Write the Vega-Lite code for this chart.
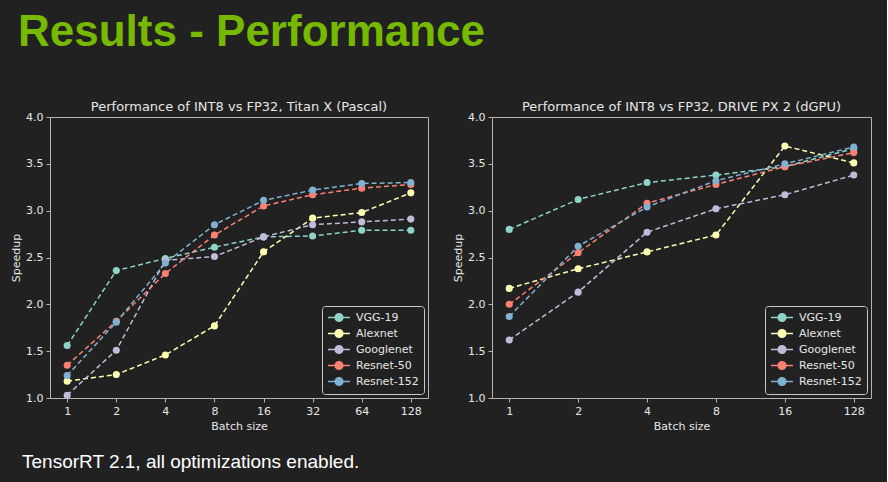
{
  "$schema": "https://vega.github.io/schema/vega-lite/v6.json",
  "background": "#212121",
  "padding": {"left": 10, "top": 10, "right": 15, "bottom": 10},
  "datasets": {
    "titan": [
      {"model": "VGG-19", "batch": 1, "speedup": 1.56},
      {"model": "VGG-19", "batch": 2, "speedup": 2.36},
      {"model": "VGG-19", "batch": 4, "speedup": 2.49},
      {"model": "VGG-19", "batch": 8, "speedup": 2.61},
      {"model": "VGG-19", "batch": 16, "speedup": 2.72},
      {"model": "VGG-19", "batch": 32, "speedup": 2.73},
      {"model": "VGG-19", "batch": 64, "speedup": 2.79},
      {"model": "VGG-19", "batch": 128, "speedup": 2.79},
      {"model": "Alexnet", "batch": 1, "speedup": 1.18},
      {"model": "Alexnet", "batch": 2, "speedup": 1.25},
      {"model": "Alexnet", "batch": 4, "speedup": 1.46},
      {"model": "Alexnet", "batch": 8, "speedup": 1.77},
      {"model": "Alexnet", "batch": 16, "speedup": 2.56},
      {"model": "Alexnet", "batch": 32, "speedup": 2.92},
      {"model": "Alexnet", "batch": 64, "speedup": 2.98},
      {"model": "Alexnet", "batch": 128, "speedup": 3.19},
      {"model": "Googlenet", "batch": 1, "speedup": 1.03},
      {"model": "Googlenet", "batch": 2, "speedup": 1.51},
      {"model": "Googlenet", "batch": 4, "speedup": 2.47},
      {"model": "Googlenet", "batch": 8, "speedup": 2.51},
      {"model": "Googlenet", "batch": 16, "speedup": 2.72},
      {"model": "Googlenet", "batch": 32, "speedup": 2.85},
      {"model": "Googlenet", "batch": 64, "speedup": 2.88},
      {"model": "Googlenet", "batch": 128, "speedup": 2.91},
      {"model": "Resnet-50", "batch": 1, "speedup": 1.35},
      {"model": "Resnet-50", "batch": 2, "speedup": 1.82},
      {"model": "Resnet-50", "batch": 4, "speedup": 2.33},
      {"model": "Resnet-50", "batch": 8, "speedup": 2.74},
      {"model": "Resnet-50", "batch": 16, "speedup": 3.05},
      {"model": "Resnet-50", "batch": 32, "speedup": 3.17},
      {"model": "Resnet-50", "batch": 64, "speedup": 3.24},
      {"model": "Resnet-50", "batch": 128, "speedup": 3.28},
      {"model": "Resnet-152", "batch": 1, "speedup": 1.24},
      {"model": "Resnet-152", "batch": 2, "speedup": 1.81},
      {"model": "Resnet-152", "batch": 4, "speedup": 2.44},
      {"model": "Resnet-152", "batch": 8, "speedup": 2.85},
      {"model": "Resnet-152", "batch": 16, "speedup": 3.11},
      {"model": "Resnet-152", "batch": 32, "speedup": 3.22},
      {"model": "Resnet-152", "batch": 64, "speedup": 3.29},
      {"model": "Resnet-152", "batch": 128, "speedup": 3.30}
    ],
    "drive": [
      {"model": "VGG-19", "batch": 1, "speedup": 2.80},
      {"model": "VGG-19", "batch": 2, "speedup": 3.12},
      {"model": "VGG-19", "batch": 4, "speedup": 3.30},
      {"model": "VGG-19", "batch": 8, "speedup": 3.38},
      {"model": "VGG-19", "batch": 16, "speedup": 3.47},
      {"model": "VGG-19", "batch": 128, "speedup": 3.66},
      {"model": "Alexnet", "batch": 1, "speedup": 2.17},
      {"model": "Alexnet", "batch": 2, "speedup": 2.38},
      {"model": "Alexnet", "batch": 4, "speedup": 2.56},
      {"model": "Alexnet", "batch": 8, "speedup": 2.74},
      {"model": "Alexnet", "batch": 16, "speedup": 3.69},
      {"model": "Alexnet", "batch": 128, "speedup": 3.51},
      {"model": "Googlenet", "batch": 1, "speedup": 1.62},
      {"model": "Googlenet", "batch": 2, "speedup": 2.13},
      {"model": "Googlenet", "batch": 4, "speedup": 2.77},
      {"model": "Googlenet", "batch": 8, "speedup": 3.02},
      {"model": "Googlenet", "batch": 16, "speedup": 3.17},
      {"model": "Googlenet", "batch": 128, "speedup": 3.38},
      {"model": "Resnet-50", "batch": 1, "speedup": 2.00},
      {"model": "Resnet-50", "batch": 2, "speedup": 2.55},
      {"model": "Resnet-50", "batch": 4, "speedup": 3.08},
      {"model": "Resnet-50", "batch": 8, "speedup": 3.28},
      {"model": "Resnet-50", "batch": 16, "speedup": 3.47},
      {"model": "Resnet-50", "batch": 128, "speedup": 3.62},
      {"model": "Resnet-152", "batch": 1, "speedup": 1.87},
      {"model": "Resnet-152", "batch": 2, "speedup": 2.62},
      {"model": "Resnet-152", "batch": 4, "speedup": 3.04},
      {"model": "Resnet-152", "batch": 8, "speedup": 3.32},
      {"model": "Resnet-152", "batch": 16, "speedup": 3.50},
      {"model": "Resnet-152", "batch": 128, "speedup": 3.68}
    ]
  },
  "config": {
    "font": "DejaVu Sans",
    "view": {"stroke": "#b4b4b4", "strokeWidth": 1},
    "axis": {
      "labelColor": "#e6e6e6", "titleColor": "#e6e6e6", "domain": false, "grid": false,
      "tickColor": "#b4b4b4", "tickSize": 4, "labelFont": "DejaVu Sans", "labelFontSize": 11,
      "titleFont": "DejaVu Sans", "titleFontSize": 11, "titleFontWeight": "normal", "labelPadding": 3
    },
    "title": {"color": "#e6e6e6", "font": "DejaVu Sans", "fontSize": 13, "fontWeight": "normal", "offset": 0},
    "legend": {
      "orient": "bottom-right", "offset": 4, "strokeColor": "#c8c8c8", "fillColor": "#212121",
      "padding": 5, "cornerRadius": 3, "labelColor": "#e6e6e6", "labelFont": "DejaVu Sans", "labelFontSize": 11,
      "symbolType": "M-1,0H3M0.3,0A0.7,0.7,0,1,1,1.7,0A0.7,0.7,0,1,1,0.3,0Z",
      "symbolSize": 121, "symbolStrokeWidth": 1.5, "rowPadding": 1, "labelOffset": 16
    }
  },
  "title": {
    "text": "Results - Performance", "anchor": "start", "font": "Liberation Sans", "fontSize": 44,
    "fontWeight": "bold", "color": "#76b900", "offset": 48, "dx": -32, "dy": 2, "frame": "group"
  },
  "vconcat": [
    {
      "title": {"text": "TensorRT 2.1, all optimizations enabled.", "orient": "bottom", "anchor": "start",
        "font": "Liberation Sans", "fontSize": 19, "color": "#ffffff", "offset": 21, "dx": -28, "frame": "group"},
      "spacing": 23,
      "resolve": {"legend": {"color": "independent"}, "scale": {"x": "independent"}},
      "hconcat": [
        {
          "width": 378, "height": 281,
          "title": {"text": "Performance of INT8 vs FP32, Titan X (Pascal)", "offset": -3},
          "data": {"name": "titan"},
          "encoding": {
            "x": {"field": "batch", "type": "ordinal", "scale": {"type": "point", "padding": 0.35},
              "axis": {"labelAngle": 0, "title": "Batch size"}},
            "y": {"field": "speedup", "type": "quantitative", "scale": {"domain": [1, 4], "zero": false, "nice": false},
              "axis": {"values": [1, 1.5, 2, 2.5, 3, 3.5, 4], "format": ".1f", "title": "Speedup"}},
            "color": {"field": "model", "type": "nominal",
              "scale": {"domain": ["VGG-19", "Alexnet", "Googlenet", "Resnet-50", "Resnet-152"],
                "range": ["#8dd3c7", "#feffb3", "#bfbbd9", "#fa8174", "#81b1d2"]},
              "legend": {"title": null}}
          },
          "layer": [
            {"mark": {"type": "line", "strokeDash": [5, 3], "strokeWidth": 1.5}},
            {"mark": {"type": "point", "filled": true, "size": 50, "opacity": 1}}
          ]
        },
        {
          "width": 379, "height": 281,
          "title": {"text": "Performance of INT8 vs FP32, DRIVE PX 2 (dGPU)", "offset": -3},
          "data": {"name": "drive"},
          "encoding": {
            "x": {"field": "batch", "type": "ordinal", "scale": {"type": "point", "padding": 0.25},
              "axis": {"labelAngle": 0, "title": "Batch size"}},
            "y": {"field": "speedup", "type": "quantitative", "scale": {"domain": [1, 4], "zero": false, "nice": false},
              "axis": {"values": [1, 1.5, 2, 2.5, 3, 3.5, 4], "format": ".1f", "title": "Speedup"}},
            "color": {"field": "model", "type": "nominal",
              "scale": {"domain": ["VGG-19", "Alexnet", "Googlenet", "Resnet-50", "Resnet-152"],
                "range": ["#8dd3c7", "#feffb3", "#bfbbd9", "#fa8174", "#81b1d2"]},
              "legend": {"title": null}}
          },
          "layer": [
            {"mark": {"type": "line", "strokeDash": [5, 3], "strokeWidth": 1.5}},
            {"mark": {"type": "point", "filled": true, "size": 50, "opacity": 1}}
          ]
        }
      ]
    }
  ]
}
